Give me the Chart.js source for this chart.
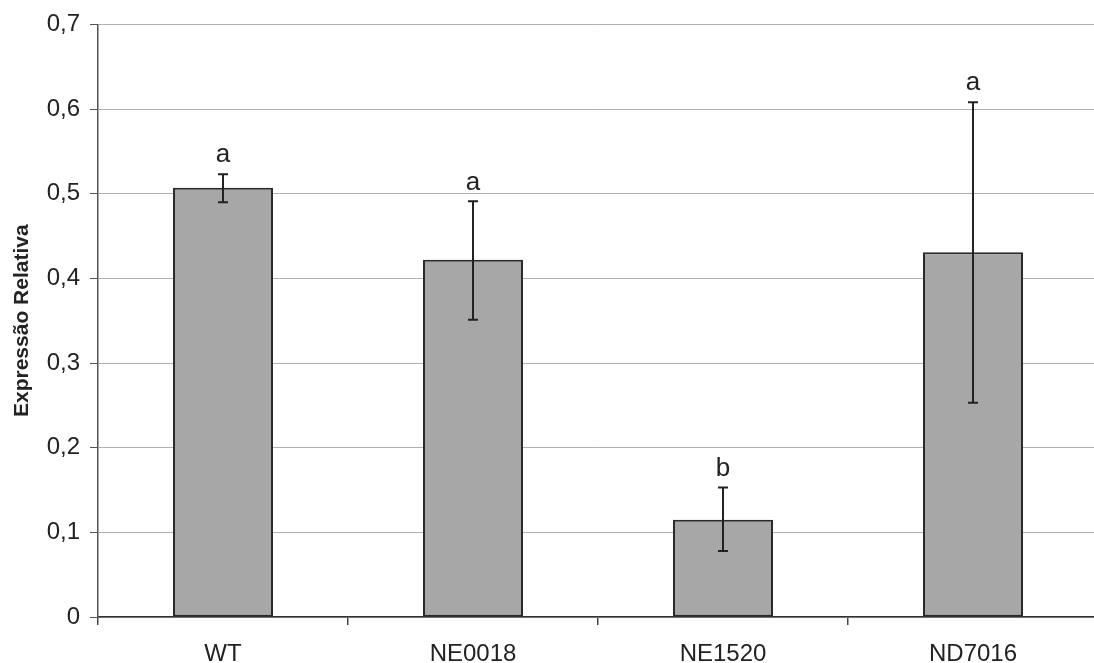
<!DOCTYPE html>
<html>
<head>
<meta charset="utf-8">
<script src="https://cdn.jsdelivr.net/npm/chart.js@4/dist/chart.umd.min.js"></script>
<style>
  html, body { margin: 0; padding: 0; background: #fff; overflow: hidden; }
  #wrap { width: 1100px; height: 663px; }
</style>
</head>
<body>
<div id="wrap"><canvas id="chart" width="1100" height="663"></canvas></div>
<script>
const categories = ['WT', 'NE0018', 'NE1520', 'ND7016'];
const expression = [0.507, 0.422, 0.115, 0.431];
const errorHigh = [0.523, 0.491, 0.153, 0.608];
const errorLow = [0.490, 0.351, 0.078, 0.253];
const letters = ['a', 'a', 'b', 'a'];
const yTicks = [0, 0.1, 0.2, 0.3, 0.4, 0.5, 0.6, 0.7];

const FONT = '"Liberation Sans", Arial, sans-serif';

// error bars + significance letters
const errorBars = {
  id: 'errorBars',
  afterDatasetsDraw(chart) {
    const ctx = chart.ctx;
    const x = chart.scales.x, y = chart.scales.y;
    ctx.save();
    ctx.strokeStyle = '#222';
    ctx.fillStyle = '#222';
    ctx.lineWidth = 2;
    ctx.font = '26px ' + FONT;
    ctx.textAlign = 'center';
    ctx.textBaseline = 'bottom';
    categories.forEach((c, i) => {
      const px = x.getPixelForValue(i);
      const hi = y.getPixelForValue(errorHigh[i]);
      const lo = y.getPixelForValue(errorLow[i]);
      ctx.beginPath();
      ctx.moveTo(px, hi); ctx.lineTo(px, lo);
      ctx.moveTo(px - 5, hi); ctx.lineTo(px + 5, hi);
      ctx.moveTo(px - 5, lo); ctx.lineTo(px + 5, lo);
      ctx.stroke();
      ctx.fillText(letters[i], px, hi - 6);
    });
    ctx.restore();
  }
};

new Chart(document.getElementById('chart'), {
  type: 'bar',
  data: {
    labels: categories,
    datasets: [{
      data: expression,
      backgroundColor: '#a7a7a7',
      borderColor: '#2a2a2a',
      borderWidth: 2,
      borderSkipped: false,
      categoryPercentage: 1,
      barPercentage: 0.4
    }]
  },
  options: {
    responsive: false,
    animation: false,
    layout: { padding: { top: 24, right: 2, left: 0, bottom: 0 } },
    plugins: { legend: { display: false }, tooltip: { enabled: false } },
    scales: {
      x: {
        afterFit: s => { s.height = 46; },
        grid: { offset: true, drawOnChartArea: false, tickLength: 8, color: '#444', lineWidth: 1.5 },
        border: { color: '#333', width: 1.5 },
        ticks: { color: '#222', padding: 15, font: { family: FONT, size: 24 } }
      },
      y: {
        min: 0,
        max: 0.7,
        afterFit: s => { s.width = 98; },
        afterBuildTicks: s => { s.ticks = yTicks.map(v => ({ value: v })); },
        grid: { color: '#b0b0b0', lineWidth: 1, tickLength: 8, tickColor: '#555' },
        border: { color: '#555', width: 1.5 },
        ticks: {
          color: '#222',
          padding: 10,
          font: { family: FONT, size: 24 },
          callback: v => v === 0 ? '0' : v.toFixed(1).replace('.', ',')
        },
        title: {
          display: true,
          text: 'Expressão Relativa',
          color: '#222',
          font: { family: FONT, size: 21, weight: 'bold' },
          padding: { top: 10, bottom: 0 }
        }
      }
    }
  },
  plugins: [errorBars]
});
</script>
</body>
</html>
